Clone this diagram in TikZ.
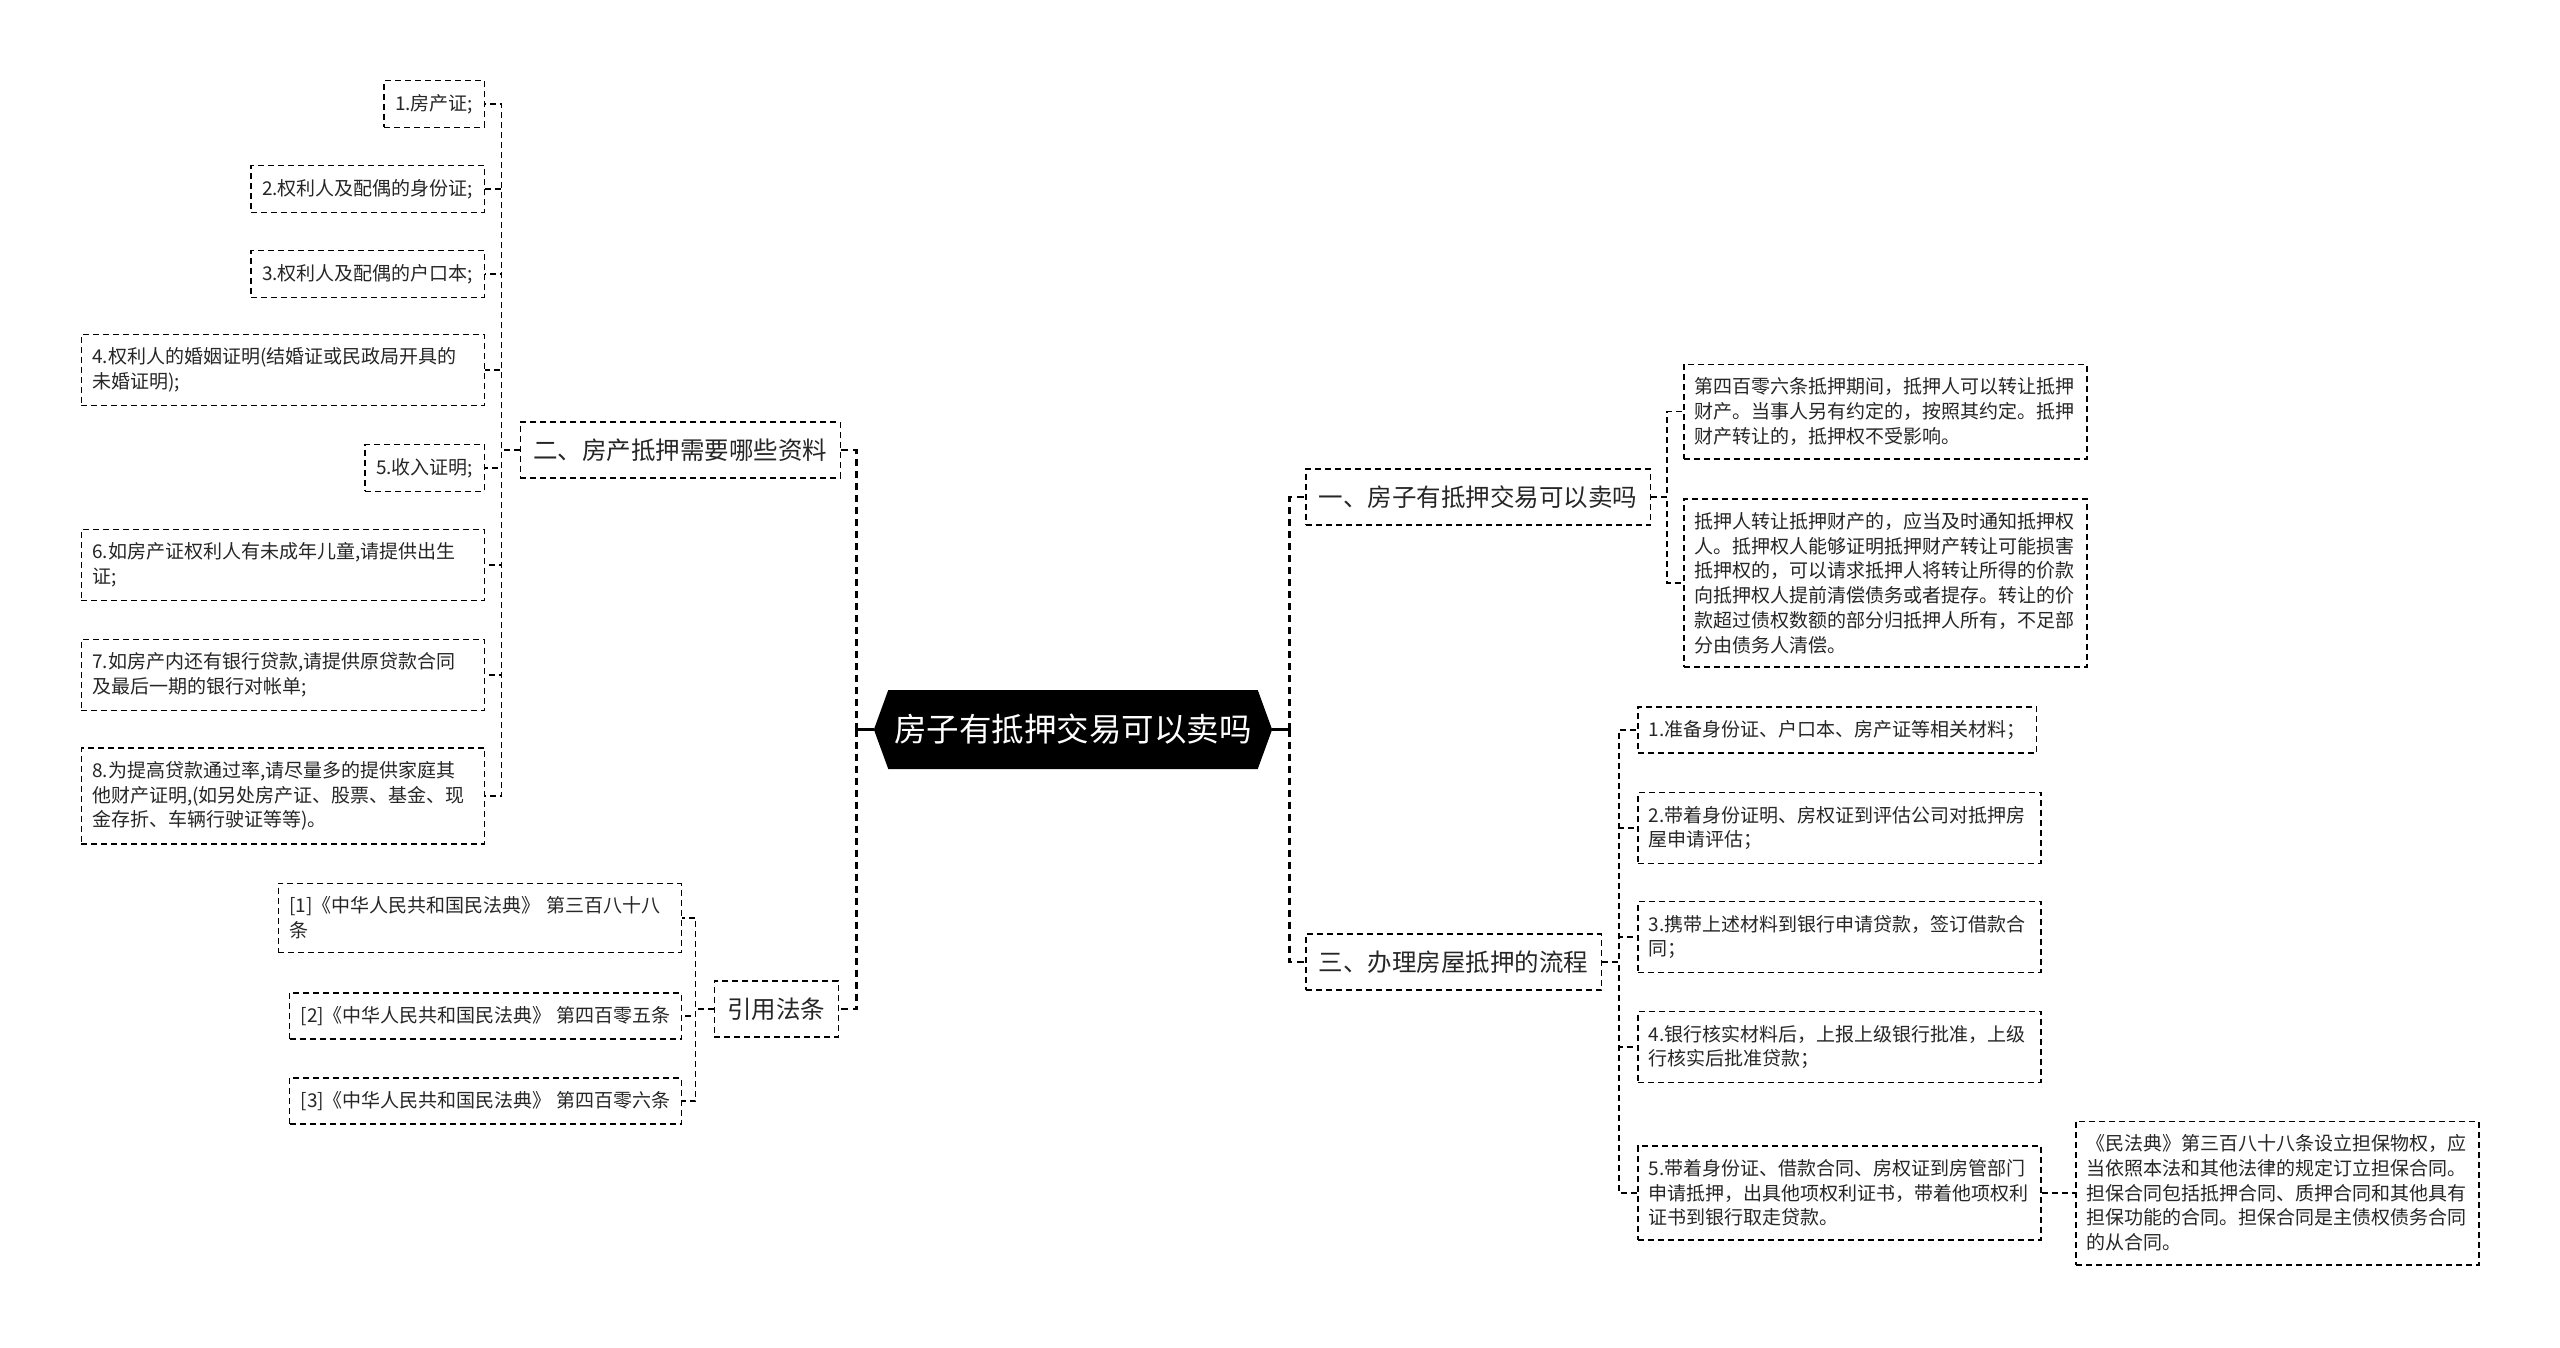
\documentclass[tikz,border=0pt]{standalone}
\usepackage{fontspec}
\setmainfont{Noto Sans CJK SC}
\usetikzlibrary{positioning,shapes.symbols}

\begin{document}
\begin{tikzpicture}[x=1pt, y=-1pt,
    leaf/.style={draw, dash pattern=on 6pt off 4pt, line width=1.5pt, align=left,
        text=black!85, font=\fontsize{19}{24.7}\selectfont,
        inner xsep=11pt, inner ysep=13.5pt},
    wide/.style={leaf, text width=381pt},
    branch/.style={draw, dash pattern=on 6pt off 4pt, line width=1.5pt,
        text=black!85, font=\fontsize{24.5}{30}\selectfont,
        inner xsep=13pt, minimum height=56pt},
    topic/.style={signal, signal to=west and east, signal pointer angle=140,
        fill=black, text=white, font=\fontsize{32.5}{38}\selectfont,
        minimum height=79pt, inner xsep=6pt},
    link/.style={dash pattern=on 6pt off 4pt, line width=1.3pt},
    trunk/.style={dash pattern=on 7pt off 5pt, line width=2.4pt}]

    \fill[white] (0,0) rectangle (2560,1347);

    % centre
    \node[topic] (root) at (1073,729.5) {房子有抵押交易可以卖吗};

    % main branches
    \node[branch, anchor=east] (b2) at (841,450) {二、房产抵押需要哪些资料};
    \node[branch, anchor=east] (cite) at (839,1009) {引用法条};
    \node[branch, anchor=west] (b1) at (1305,497) {一、房子有抵押交易可以卖吗};
    \node[branch, anchor=west] (b3) at (1305,962) {三、办理房屋抵押的流程};

    % materials
    \node[leaf, anchor=east] (m1) at (485,104) {1.房产证;};
    \node[leaf, anchor=east] (m2) at (485,189) {2.权利人及配偶的身份证;};
    \node[leaf, anchor=east] (m3) at (485,274) {3.权利人及配偶的户口本;};
    \node[wide, anchor=east] (m4) at (485,370) {4.权利人的婚姻证明(结婚证或民政局开具的\\未婚证明);};
    \node[leaf, anchor=east] (m5) at (485,468) {5.收入证明;};
    \node[wide, anchor=east] (m6) at (485,565) {6.如房产证权利人有未成年儿童,请提供出生\\证;};
    \node[wide, anchor=east] (m7) at (485,675) {7.如房产内还有银行贷款,请提供原贷款合同\\及最后一期的银行对帐单;};
    \node[wide, anchor=east] (m8) at (485,796) {8.为提高贷款通过率,请尽量多的提供家庭其\\他财产证明,(如另处房产证、股票、基金、现\\金存折、车辆行驶证等等)。};

    % laws
    \node[wide, anchor=east] (c1) at (682,918) {[1]《中华人民共和国民法典》 第三百八十八\\条};
    \node[leaf, anchor=east] (c2) at (682,1016) {[2]《中华人民共和国民法典》 第四百零五条};
    \node[leaf, anchor=east] (c3) at (682,1101) {[3]《中华人民共和国民法典》 第四百零六条};

    % can it be sold
    \node[wide, anchor=west] (r1) at (1683,411.5) {第四百零六条抵押期间，抵押人可以转让抵押\\财产。当事人另有约定的，按照其约定。抵押\\财产转让的，抵押权不受影响。};
    \node[wide, anchor=west] (r2) at (1683,583) {抵押人转让抵押财产的，应当及时通知抵押权\\人。抵押权人能够证明抵押财产转让可能损害\\抵押权的，可以请求抵押人将转让所得的价款\\向抵押权人提前清偿债务或者提存。转让的价\\款超过债权数额的部分归抵押人所有，不足部\\分由债务人清偿。};

    % procedure
    \node[leaf, anchor=west] (s1) at (1637,730) {1.准备身份证、户口本、房产证等相关材料；};
    \node[wide, anchor=west] (s2) at (1637,828) {2.带着身份证明、房权证到评估公司对抵押房\\屋申请评估；};
    \node[wide, anchor=west] (s3) at (1637,937) {3.携带上述材料到银行申请贷款，签订借款合\\同；};
    \node[wide, anchor=west] (s4) at (1637,1047) {4.银行核实材料后，上报上级银行批准，上级\\行核实后批准贷款；};
    \node[wide, anchor=west] (s5) at (1637,1193) {5.带着身份证、借款合同、房权证到房管部门\\申请抵押，出具他项权利证书，带着他项权利\\证书到银行取走贷款。};
    \node[wide, anchor=west] (g1) at (2075,1193) {《民法典》第三百八十八条设立担保物权，应\\当依照本法和其他法律的规定订立担保合同。\\担保合同包括抵押合同、质押合同和其他具有\\担保功能的合同。担保合同是主债权债务合同\\的从合同。};

    % connectors
    \coordinate (rl) at ([xshift=-17pt]root.west);
    \coordinate (rr) at ([xshift=17pt]root.east);
    \draw[line width=2.4pt] (root.west) -- (rl);
    \draw[line width=2.4pt] (root.east) -- (rr);
    \foreach \n in {b2,cite} \draw[trunk] (rl) |- (\n.east);
    \foreach \n in {b1,b3} \draw[trunk] (rr) |- (\n.west);

    \foreach \i in {1,...,8} \draw[link] (b2.west) -- ++(-18,0) |- (m\i.east);
    \foreach \i in {1,2,3} \draw[link] (cite.west) -- ++(-18,0) |- (c\i.east);
    \foreach \i in {1,2} \draw[link] (b1.east) -- ++(16,0) |- (r\i.west);
    \foreach \i in {1,...,5} \draw[link] (b3.east) -- ++(17,0) |- (s\i.west);
    \draw[link] (s5.east) -- (g1.west);
\end{tikzpicture}
\end{document}
